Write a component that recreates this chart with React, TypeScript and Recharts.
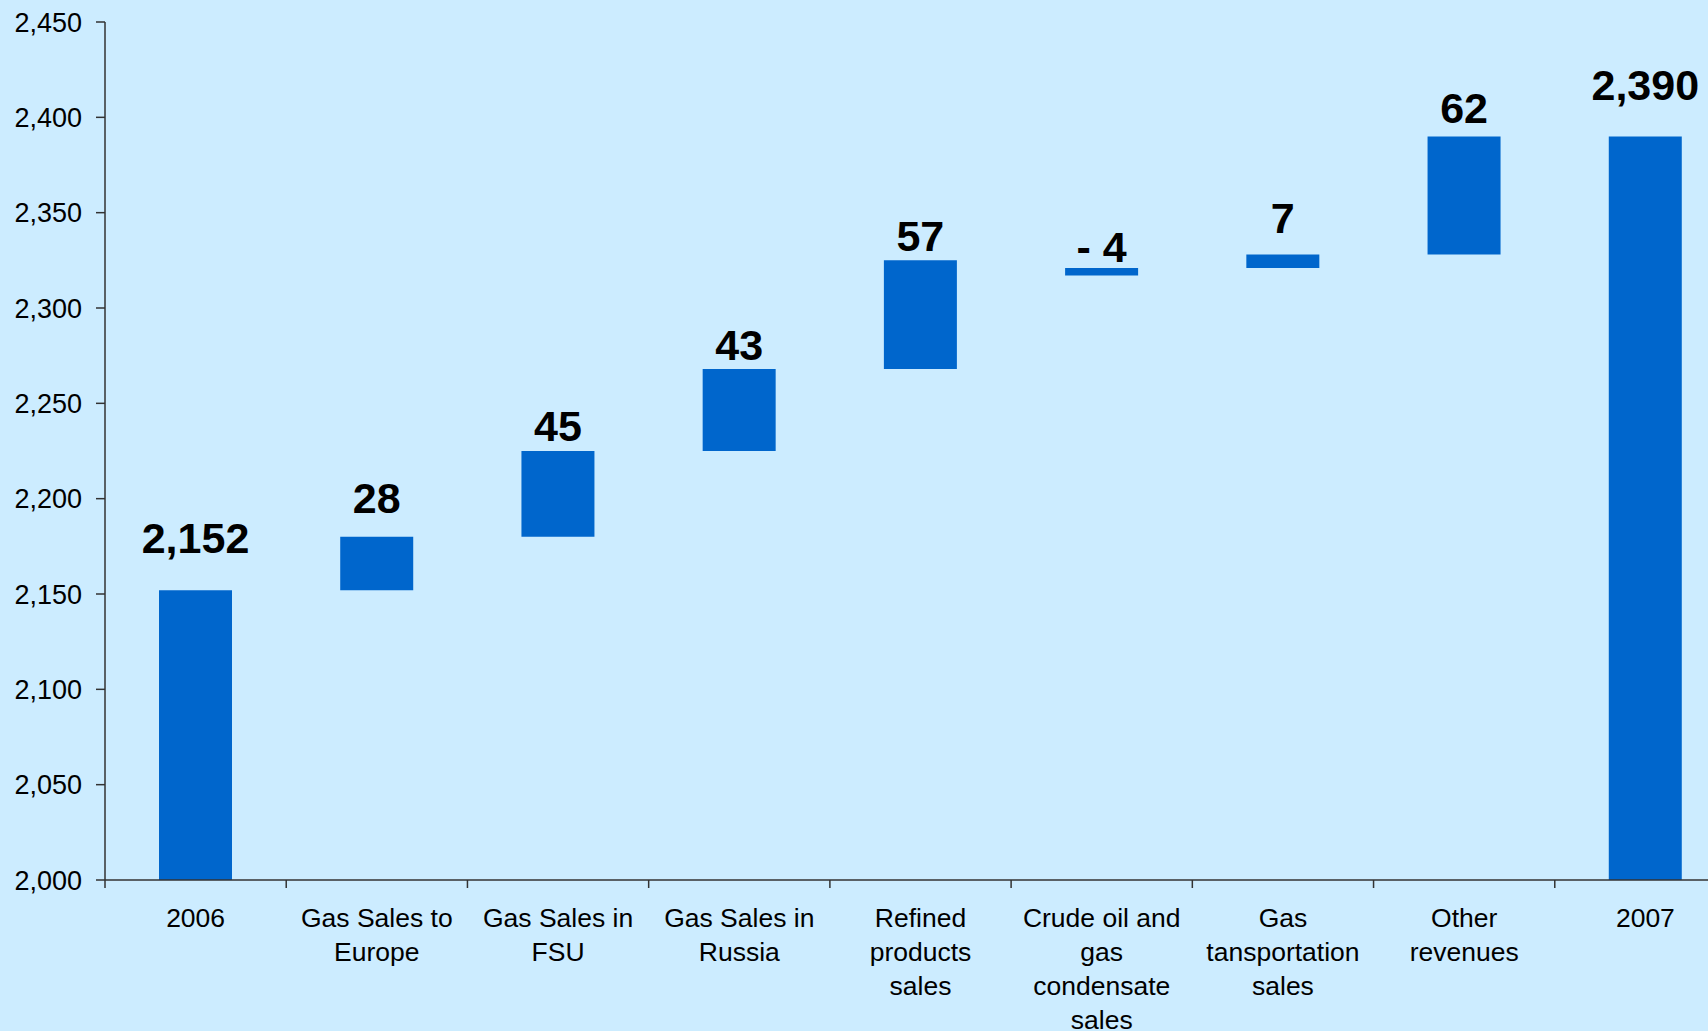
import React from 'react';
import { BarChart, Bar, XAxis, YAxis, LabelList } from 'recharts';

const categories = [
    '2006',
    'Gas Sales to\nEurope',
    'Gas Sales in\nFSU',
    'Gas Sales in\nRussia',
    'Refined\nproducts\nsales',
    'Crude oil and\ngas\ncondensate\nsales',
    'Gas\ntansportation\nsales',
    'Other\nrevenues',
    '2007',
];
const valueLabels = ['2,152', '28', '45', '43', '57', '- 4', '7', '62', '2,390'];
const barBottoms = [2000, 2152, 2180, 2225, 2268, 2317, 2321, 2328, 2000];
const barTops = [2152, 2180, 2225, 2268, 2325, 2321, 2328, 2390, 2390];
const yTicks = [2000, 2050, 2100, 2150, 2200, 2250, 2300, 2350, 2400, 2450];

const data = categories.map((name, i) => ({
    name,
    range: [barBottoms[i], barTops[i]],
    label: valueLabels[i],
}));

// space between the bar top and the value text, as placed in the original slide
const LABEL_GAPS = [37, 24, 10, 9, 9, 6, 22, 13, 36];

const FONT = '"Liberation Sans", Arial, sans-serif';
const AXIS = '#333333';
const W = 1740;
const H = 1031;
const Y_W = 105;
const X_H = 151;
const MARGIN = { top: 22, right: 4, bottom: 0, left: 0 };
const BAND = (W - Y_W - MARGIN.left - MARGIN.right) / categories.length;

const XTick = (props: any) => {
    const { x, y, payload } = props;
    const lines = String(payload.value).split('\n');
    return (
        <g>
            <line x1={x - BAND / 2} x2={x - BAND / 2} y1={y} y2={y + 8} stroke={AXIS} strokeWidth={1.5} />
            <text textAnchor="middle" fontSize={26.5} fill="#000" fontFamily={FONT}>
                {lines.map((l, i) => (
                    <tspan key={i} x={x} y={y + 47 + i * 34}>{l}</tspan>
                ))}
            </text>
        </g>
    );
};

const ValueLabel = (props: any) => {
    const { x, y, width, index, value } = props;
    return (
        <text x={x + width / 2} y={y - LABEL_GAPS[index]} textAnchor="middle" fontSize={43}
            fontWeight="bold" fill="#000" fontFamily={FONT}>
            {value}
        </text>
    );
};

const App: React.FC = () => {
    return (
        <div style={{ position: 'absolute', left: 0, top: 0, width: 1708, height: 1031, overflow: 'hidden', background: '#CCECFF' }}>
            <BarChart width={W} height={H} data={data} margin={MARGIN}>
                <XAxis dataKey="name" interval={0} height={X_H} tickSize={0} tickMargin={0}
                    axisLine={{ stroke: AXIS, strokeWidth: 1.5 }} tickLine={false} tick={<XTick />} />
                <YAxis domain={[2000, 2450]} ticks={yTicks} interval={0} width={Y_W} tickSize={9} tickMargin={14}
                    axisLine={{ stroke: AXIS, strokeWidth: 1.5 }} tickLine={{ stroke: AXIS, strokeWidth: 1.5 }}
                    tick={{ fontSize: 27, fill: '#000', fontFamily: FONT }}
                    tickFormatter={(v: number) => v.toLocaleString('en-US')} />
                <Bar dataKey="range" fill="#0066CC" barSize={73} isAnimationActive={false}>
                    <LabelList dataKey="label" content={<ValueLabel />} />
                </Bar>
            </BarChart>
        </div>
    );
};

export default App;
